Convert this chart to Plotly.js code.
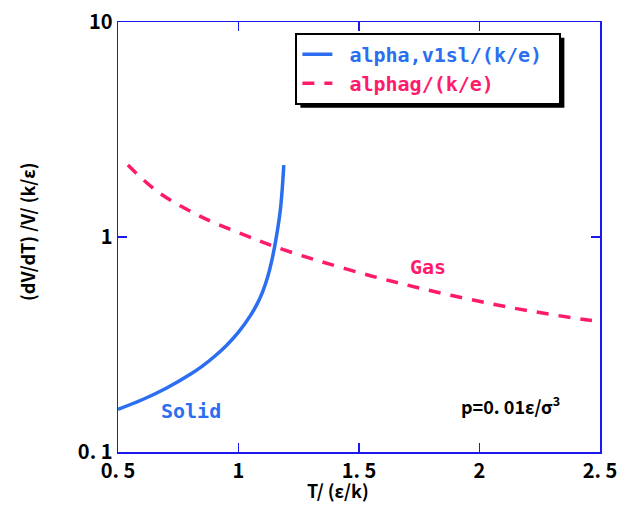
<!DOCTYPE html>
<html>
<head>
<meta charset="utf-8">
<script src="https://cdn.plot.ly/plotly-3.0.1.min.js"></script>
<style>html,body{margin:0;padding:0;background:#fff;}#chart{width:627px;height:521px;}</style>
</head>
<body>
<div id="chart"></div>
<script>
const solidT = [0.5, 0.6, 0.7, 0.8, 0.85, 0.9, 0.95, 1.0, 1.05, 1.08, 1.1, 1.12, 1.14, 1.16, 1.175, 1.188];
const solidAlpha = [0.158, 0.175, 0.198, 0.230, 0.251, 0.278, 0.313, 0.361, 0.432, 0.495, 0.556, 0.646, 0.794, 1.047, 1.38, 2.16];
const gasT = [0.541, 0.666, 0.846, 1.026, 1.150, 1.330, 1.551, 1.745, 1.952, 2.160, 2.450, 2.5];
const gasAlpha = [2.16, 1.62, 1.24, 1.02, 0.902, 0.776, 0.659, 0.581, 0.515, 0.463, 0.411, 0.405];
const xTicks = [0.5, 1, 1.5, 2, 2.5];
const xTickText = ['0. 5', '1', '1. 5', '2', '2. 5'];
const yTicks = [0.1, 1, 10];
const yTickText = ['0. 1', '1', '10'];

const blue = '#2b6ff0';
const pink = '#ff1a6c';
const axisColor = '#1a1aee';
const mono = '"DejaVu Sans Mono", "Liberation Mono", monospace';
const sans = '"Noto Sans CJK JP", "Noto Sans", sans-serif';

const traces = [
  {x: solidT, y: solidAlpha, mode: 'lines', line: {color: blue, width: 3.5, shape: 'spline', smoothing: 1},
   name: '<span style="color:' + blue + '">&nbsp;alpha,v1sl/(k/e)&nbsp;</span>'},
  {x: gasT, y: gasAlpha, mode: 'lines', line: {color: pink, width: 3.5, dash: '12px,10px', shape: 'spline', smoothing: 1},
   name: '<span style="color:' + pink + '">&nbsp;alphag/(k/e)</span>'}
];

const axisCommon = {showgrid: false, zeroline: false, showline: true, linecolor: axisColor, linewidth: 1.5,
  mirror: 'ticks', ticks: 'inside', ticklen: 9, tickcolor: axisColor, tickwidth: 1.5,
  tickfont: {family: sans, size: 20, color: '#000', weight: 'bold'}};

const layout = {
  width: 627, height: 521,
  margin: {l: 118, r: 27, t: 22, b: 69},
  paper_bgcolor: '#fff', plot_bgcolor: '#fff',
  font: {family: sans},
  xaxis: Object.assign({}, axisCommon, {range: [0.5, 2.5], tickvals: xTicks, ticktext: xTickText}),
  yaxis: Object.assign({}, axisCommon, {type: 'log', range: [-1, 1], tickvals: yTicks, ticktext: yTickText}),
  showlegend: true,
  legend: {x: 0.368, y: 0.975, xanchor: 'left', yanchor: 'top', bgcolor: '#fff', bordercolor: '#000', borderwidth: 2,
    font: {family: mono, size: 20, weight: 'bold'}, tracegroupgap: 0, itemwidth: 30},
  shapes: [],
  annotations: [
    {xref: 'paper', yref: 'paper', x: (338 - 118) / 482, y: -(490 - 452) / 430, xanchor: 'center', yanchor: 'middle',
     text: 'T/ (ε/k)', showarrow: false, font: {family: sans, size: 18, color: '#000', weight: 'bold'}},
    {xref: 'paper', yref: 'paper', x: -(118 - 27) / 482, y: (452 - 232) / 430, xanchor: 'center', yanchor: 'middle',
     text: '(dV/dT) /V/ (k/ε)', textangle: -90, showarrow: false, font: {family: sans, size: 18, color: '#000', weight: 'bold'}},
    {x: 1.786, y: Math.log10(0.725), text: 'Gas', showarrow: false, font: {family: mono, size: 20, color: pink, weight: 'bold'}},
    {x: 0.803, y: Math.log10(0.155), text: 'Solid', showarrow: false, font: {family: mono, size: 20, color: blue, weight: 'bold'}},
    {x: 2.127, y: Math.log10(0.166), text: 'p=0. 01ε/σ<sup>3</sup>', showarrow: false, font: {family: sans, size: 18, color: '#000', weight: 'bold'}}
  ]
};

Plotly.newPlot('chart', traces, layout, {displayModeBar: false, staticPlot: true}).then(function (gd) {
  const bg = gd.querySelector('.legend .bg');
  if (!bg) return;
  const r = bg.getBoundingClientRect();
  const c = gd.getBoundingClientRect();
  const L = 118, T = 22, W = 482, H = 430, off = 4;
  const px = v => (v - c.left - L) / W;
  const py = v => 1 - (v - c.top - T) / H;
  const shadow = {type: 'rect', xref: 'paper', yref: 'paper',
    x0: px(r.left + off), x1: px(r.right + off), y0: py(r.bottom + off), y1: py(r.top + off),
    fillcolor: '#000', line: {width: 0}, layer: 'above'};
  return Plotly.relayout(gd, {shapes: [shadow]});
});
</script>
</body>
</html>
